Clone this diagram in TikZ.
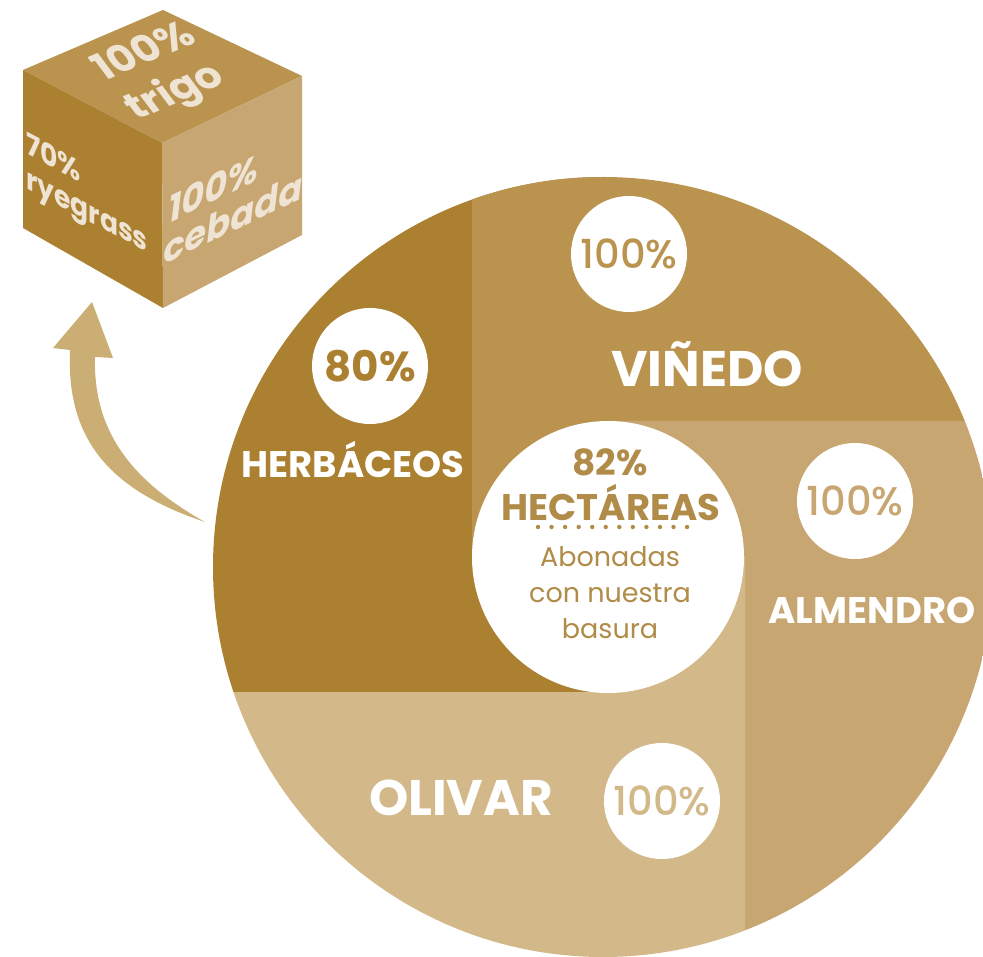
\documentclass[tikz,border=0pt]{standalone}
\usepackage{fontspec}
\setmainfont{Poppins}
\newfontfamily\medfont{Poppins Medium}
\usepackage{tikz}
\usetikzlibrary{positioning,calc}

\definecolor{herb}{HTML}{AB8030}
\definecolor{vine}{HTML}{BA934F}
\definecolor{almond}{HTML}{C8A671}
\definecolor{olive}{HTML}{D3B88A}
\definecolor{cream}{HTML}{EFE4D4}
\definecolor{arrowc}{HTML}{CBAE74}
\definecolor{ink}{HTML}{B08C48}

\begin{document}
\begin{tikzpicture}[x=1pt,y=-1pt,node distance=94pt,
    badge/.style={circle,fill=white,minimum size=116pt,inner sep=0pt},
    pctbold/.style={font=\bfseries\fontsize{42}{42}\selectfont},
    pctmed/.style={font=\medfont\fontsize{40}{40}\selectfont},
    crop/.style={text=white,font=\bfseries\fontsize{37}{37}\selectfont},
    bigcrop/.style={text=white,font=\bfseries\fontsize{50}{50}\selectfont},
    face/.style={text=cream,inner sep=0pt,transform shape}]

 \useasboundingbox (0,0) rectangle (983,957);

 % the cube
 \fill[vine]   (163,10) -- (302,76) -- (162,143) -- (23,70) -- cycle;
 \fill[herb]   (23,70) -- (162,143) -- (163,308) -- (23,228) -- cycle;
 \fill[almond] (162,143) -- (302,76) -- (302,235) -- (163,308) -- cycle;

 \node[face,cm={0.919,0.394,-0.6,0.8,(0,0)},align=center,
       font=\bfseries\fontsize{40}{50}\selectfont] (trigo) at (161,74) {100\%\\trigo};
 \node[face,cm={0.885,-0.465,0,1,(0,0)},align=left,
       font=\bfseries\fontsize{30}{35}\selectfont] (rye) at (87,196) {70\%\\ryegrass};
 \node[face,cm={0.902,0.432,0.12,1,(0,0)},align=left,
       font=\bfseries\fontsize{39}{41}\selectfont] (cebada) at (236,197) {100\%\\cebada};

 % the arrow
 \fill[arrowc] (92,302) -- (113,358) -- (95,357)
    .. controls (93,430) and (130,480) .. (205,522)
    .. controls (110,490) and (66,440) .. (70,350)
    -- (53,348) -- cycle;

 % the pie
 \begin{scope}
  \clip (603,567) circle[radius=390];
  \fill[herb] (200,150) rectangle (608,692);
  \fill[vine] (472,150) -- (1000,150) -- (1000,421) -- (608,421)
              -- (608,556) -- (472,556) -- cycle;
  \fill[almond] (608,421) -- (1000,421) -- (1000,960) -- (745,960)
              -- (745,556) -- (608,556) -- cycle;
  \fill[olive] (200,692) -- (608,692) -- (608,556) -- (745,556)
              -- (745,960) -- (200,960) -- cycle;
 \end{scope}

 % badges
 \node[badge,pctbold,text=herb] (herbpct) at (370,366) {80\%};
 \node[crop] (herbtxt) [below of=herbpct,xshift=-17pt] {HERBÁCEOS};

 \node[badge,pctmed,text=vine] (vinepct) at (629,254) {100\%};
 \node[bigcrop] (vinetxt) at (707,364) {VIÑEDO};

 \node[badge,pctmed,text=almond] (almondpct) at (855,501) {100\%};
 \node[crop] (almondtxt) at (872,610) {ALMENDRO};

 \node[badge,pctmed,text=olive] (olivepct) at (662,801) {100\%};
 \node[bigcrop] (olivetxt) at (461,798) {OLIVAR};

 % the centre
 \node[circle,fill=white,minimum size=272pt,inner sep=0pt] (core) at (608,557) {};
 \node[text=ink,font=\bfseries\fontsize{36}{36}\selectfont] (share) at (610,462) {82\%};
 \node[text=ink,font=\bfseries\fontsize{37}{37}\selectfont] (hect) at (611,503) {HECTÁREAS};
 \foreach \i in {0,...,11}
   \fill[ink] (538+\i*13.55,527) circle[radius=2.2];
 \node[text=ink,align=center,font=\fontsize{27}{36}\selectfont] (abono) at (610,593)
   {Abonadas\\con nuestra\\basura};

\end{tikzpicture}
\end{document}
